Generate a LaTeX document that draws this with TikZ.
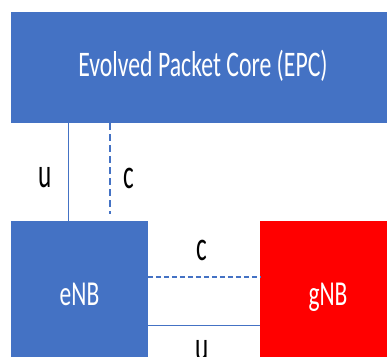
\documentclass[tikz,border=0pt]{standalone}
\usepackage{fontspec}
\setmainfont{Carlito}
\definecolor{nodeblue}{HTML}{4472C4}
\definecolor{linkblue}{HTML}{4472C4}
\definecolor{gnbred}{HTML}{FF0000}
\tikzset{
  netbox/.style={draw=none, inner sep=0pt, anchor=north west},
  boxtext/.style={text=white, inner sep=0pt, anchor=base},
  iflabel/.style={text=black, inner sep=0pt, anchor=base},
  uplane/.style={draw=linkblue, line width=0.9pt},
  cplane/.style={draw=linkblue, line width=1.4pt, dash pattern=on 5pt off 3pt},
}
\begin{document}
\begin{tikzpicture}[x=1pt,y=-1pt]
  \useasboundingbox (0,0) rectangle (387,356);
  \clip (0,0) rectangle (387,356);

  % network elements
  \node[netbox, fill=nodeblue, minimum width=384pt, minimum height=111pt] (epc) at (11,12) {};
  \node[netbox, fill=nodeblue, minimum width=136.5pt, minimum height=148pt] (enb) at (11,221) {};
  \node[netbox, fill=gnbred, minimum width=136pt, minimum height=148pt] (gnb) at (260,221) {};

  \node[boxtext] (epc-text) at (203,76) {\scalebox{0.66}[1]{\fontsize{36}{36}\selectfont Evolved Packet Core (EPC)}};
  \node[boxtext] (enb-text) at (79.5,305.5) {\scalebox{0.67}[1]{\fontsize{35}{35}\selectfont eNB}};
  \node[boxtext] (gnb-text) at (328,305.5) {\scalebox{0.67}[1]{\fontsize{35}{35}\selectfont gNB}};

  % S1 interfaces
  \coordinate (s1u) at (68,0);
  \coordinate (s1c) at (110,0);
  \coordinate (s1c-end) at (110,214);
  \draw[uplane] (epc.south -| s1u) -- (enb.north -| s1u);
  \draw[cplane, dash pattern=on 6.5pt off 4.5pt] (epc.south -| s1c) -- (s1c-end);

  % X2 interfaces
  \coordinate (x2c) at (0,277);
  \coordinate (x2u) at (0,325);
  \draw[cplane] (enb.east |- x2c) -- (gnb.west |- x2c);
  \draw[uplane] (enb.east |- x2u) -- (gnb.west |- x2u);

  % plane labels
  \node[iflabel] (lbl-s1u) at (45,187) {\scalebox{0.6}[1]{\fontsize{42}{42}\selectfont u}};
  \node[iflabel] (lbl-s1c) at (129,188) {\scalebox{0.6}[1]{\fontsize{42}{42}\selectfont c}};
  \node[iflabel] (lbl-x2c) at (202,260) {\scalebox{0.6}[1]{\fontsize{42}{42}\selectfont c}};
  \node[iflabel] (lbl-x2u) at (202,360) {\scalebox{0.6}[1]{\fontsize{42}{42}\selectfont u}};
\end{tikzpicture}
\end{document}
